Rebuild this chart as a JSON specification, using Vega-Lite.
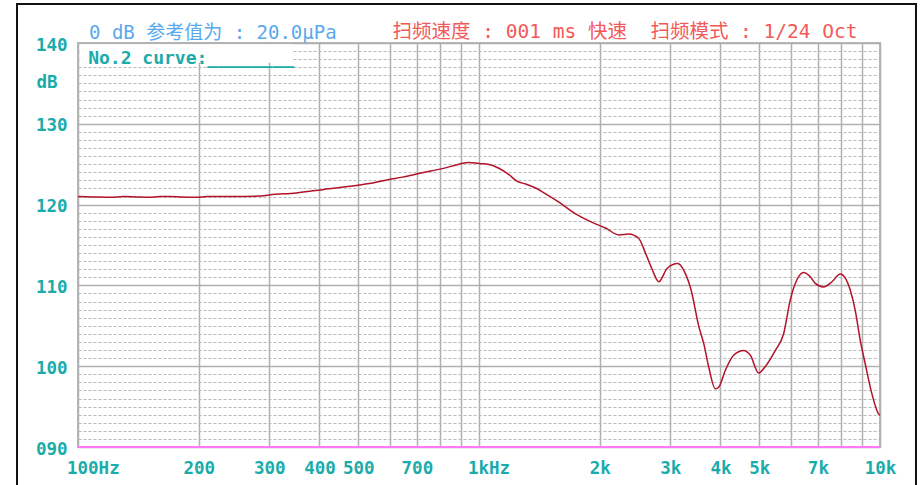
{
  "$schema": "https://vega.github.io/schema/vega-lite/v6.json",
  "width": 802,
  "height": 404,
  "autosize": {"type": "none"},
  "padding": {"left": 78, "top": 43, "right": 42, "bottom": 38},
  "background": "white",
  "title": {
    "text": "0 dB 参考值为 : 20.0μPa",
    "anchor": "start",
    "frame": "group",
    "dx": 11,
    "offset": -55,
    "baseline": "alphabetic",
    "font": "DejaVu Sans Mono, Noto Sans CJK SC",
    "fontSize": 19,
    "fontWeight": "normal",
    "color": "#5aa9ee"
  },
  "config": {"view": {"stroke": "#b8b8b8", "strokeWidth": 2}},
  "data": {
    "values": [
      {"f": 100, "db": 121.0},
      {"f": 110, "db": 120.95},
      {"f": 120, "db": 120.9},
      {"f": 130, "db": 121.0},
      {"f": 140, "db": 120.95},
      {"f": 150, "db": 120.9},
      {"f": 160, "db": 121.0},
      {"f": 170, "db": 121.0},
      {"f": 180, "db": 120.95},
      {"f": 197, "db": 120.9},
      {"f": 210, "db": 121.0},
      {"f": 240, "db": 121.0},
      {"f": 283, "db": 121.05},
      {"f": 300, "db": 121.2},
      {"f": 350, "db": 121.45},
      {"f": 407, "db": 121.85},
      {"f": 466, "db": 122.2},
      {"f": 532, "db": 122.6},
      {"f": 597, "db": 123.1},
      {"f": 644, "db": 123.4},
      {"f": 722, "db": 123.95},
      {"f": 810, "db": 124.45},
      {"f": 892, "db": 125.0},
      {"f": 944, "db": 125.22},
      {"f": 1000, "db": 125.08},
      {"f": 1059, "db": 124.97},
      {"f": 1121, "db": 124.5},
      {"f": 1188, "db": 123.7},
      {"f": 1246, "db": 122.87},
      {"f": 1307, "db": 122.55},
      {"f": 1384, "db": 122.05},
      {"f": 1480, "db": 121.2},
      {"f": 1582, "db": 120.3},
      {"f": 1741, "db": 118.85},
      {"f": 1915, "db": 117.8},
      {"f": 2069, "db": 117.1},
      {"f": 2233, "db": 116.25},
      {"f": 2363, "db": 116.35},
      {"f": 2503, "db": 115.8},
      {"f": 2601, "db": 114.0},
      {"f": 2702, "db": 112.0},
      {"f": 2808, "db": 110.45},
      {"f": 2945, "db": 112.1},
      {"f": 3131, "db": 112.7},
      {"f": 3253, "db": 111.7},
      {"f": 3381, "db": 109.4},
      {"f": 3534, "db": 104.9},
      {"f": 3635, "db": 102.8},
      {"f": 3740, "db": 99.9},
      {"f": 3886, "db": 97.2},
      {"f": 3961, "db": 97.4},
      {"f": 4115, "db": 99.5},
      {"f": 4315, "db": 101.35},
      {"f": 4571, "db": 101.95},
      {"f": 4751, "db": 101.35},
      {"f": 4982, "db": 99.15},
      {"f": 5127, "db": 99.7},
      {"f": 5483, "db": 101.95},
      {"f": 5752, "db": 104.05},
      {"f": 5974, "db": 108.2},
      {"f": 6206, "db": 110.7},
      {"f": 6449, "db": 111.6},
      {"f": 6700, "db": 111.07},
      {"f": 6896, "db": 110.25},
      {"f": 7234, "db": 109.8},
      {"f": 7589, "db": 110.45},
      {"f": 7960, "db": 111.4},
      {"f": 8193, "db": 110.9},
      {"f": 8432, "db": 109.4},
      {"f": 8674, "db": 106.9},
      {"f": 8929, "db": 103.2},
      {"f": 9186, "db": 100.3},
      {"f": 9544, "db": 96.6},
      {"f": 9915, "db": 94.1},
      {"f": 10000, "db": 93.9}
    ]
  },
  "layer": [
    {
      "mark": {"type": "line", "interpolate": "monotone", "color": "#b3122a", "strokeWidth": 1.5},
      "encoding": {
        "x": {
          "field": "f",
          "type": "quantitative",
          "scale": {"type": "log", "domain": [100, 10000], "nice": false},
          "axis": {
            "values": [100, 200, 300, 400, 500, 600, 700, 800, 900, 1000, 2000, 3000, 4000, 5000, 6000, 7000, 8000, 9000, 10000],
            "tickCount": 100,
            "labelExpr": "datum.value == 100 ? '100Hz' : datum.value == 1000 ? '1kHz' : indexof([600, 800, 900, 6000, 8000, 9000], datum.value) >= 0 ? '' : datum.value < 1000 ? datum.value + '' : (datum.value / 1000) + 'k'",
            "grid": true,
            "gridColor": "#b0b0b0",
            "gridWidth": 1.5,
            "ticks": false,
            "domain": false,
            "labelFont": "DejaVu Sans Mono",
            "labelFontWeight": "bold",
            "labelFontSize": 17.5,
            "labelColor": "#1aabab",
            "labelPadding": 12,
            "labelOverlap": false,
            "labelBound": false,
            "labelFlush": false,
            "labelAlign": {"condition": {"test": "datum.value == 100 || datum.value == 1000", "value": "left"}, "value": "center"},
            "labelOffset": {"condition": {"test": "datum.value == 100 || datum.value == 1000", "value": -11.5}, "value": 0},
            "title": "扫频速度 : 001 ms 快速\u00a0\u00a0扫频模式 : 1/24 Oct",
            "titleX": 314,
            "titleY": -410,
            "titleAlign": "left",
            "titleAngle": 0,
            "titleBaseline": "alphabetic",
            "titleFont": "DejaVu Sans Mono, Noto Sans CJK SC",
            "titleFontSize": 19.5,
            "titleFontWeight": "normal",
            "titleColor": "#f25a5a"
          }
        },
        "y": {
          "field": "db",
          "type": "quantitative",
          "scale": {"domain": [90, 140], "nice": false, "zero": false},
          "axis": {
            "values": [90, 91, 92, 93, 94, 95, 96, 97, 98, 99, 100, 101, 102, 103, 104, 105, 106, 107, 108, 109, 110, 111, 112, 113, 114, 115, 116, 117, 118, 119, 120, 121, 122, 123, 124, 125, 126, 127, 128, 129, 130, 131, 132, 133, 134, 135, 136, 137, 138, 139, 140],
            "tickCount": 100,
            "labelExpr": "datum.value % 10 == 0 ? (datum.value < 100 ? '0' + datum.value : datum.value + '') : ''",
            "grid": true,
            "gridColor": {"condition": {"test": "datum.value % 10 == 0", "value": "#b0b0b0"}, "value": "#b8b8b8"},
            "gridWidth": {"condition": {"test": "datum.value % 10 == 0", "value": 1.5}, "value": 1},
            "gridDash": {"condition": {"test": "datum.value % 10 == 0", "value": []}, "value": [3, 2]},
            "ticks": false,
            "domain": false,
            "labelFont": "DejaVu Sans Mono",
            "labelFontWeight": "bold",
            "labelFontSize": 17.5,
            "labelColor": "#1aabab",
            "labelPadding": 11,
            "labelOffset": 2,
            "labelBaseline": "middle",
            "labelOverlap": false,
            "labelBound": false,
            "labelFlush": false,
            "title": "dB",
            "titleAngle": 0,
            "titleX": -42,
            "titleY": 44,
            "titleAlign": "left",
            "titleBaseline": "alphabetic",
            "titleFont": "DejaVu Sans Mono",
            "titleFontWeight": "bold",
            "titleFontSize": 17.5,
            "titleColor": "#1aabab"
          }
        }
      }
    },
    {
      "data": {"values": [{}]},
      "mark": {"type": "rule", "color": "#ff78ff", "strokeWidth": 2},
      "encoding": {"y": {"datum": 90, "type": "quantitative"}}
    },
    {
      "data": {"values": [{}]},
      "mark": {"type": "rect", "fill": "white", "stroke": null},
      "encoding": {
        "x": {"datum": 101, "type": "quantitative"},
        "x2": {"datum": 343},
        "y": {"datum": 139.85, "type": "quantitative"},
        "y2": {"datum": 137.55}
      }
    },
    {
      "data": {"values": [{}]},
      "mark": {"type": "text", "align": "left", "baseline": "alphabetic", "font": "DejaVu Sans Mono", "fontWeight": "bold", "fontSize": 18, "color": "#1aabab"},
      "encoding": {
        "x": {"datum": 106, "type": "quantitative"},
        "y": {"datum": 137.45, "type": "quantitative"},
        "text": {"value": "No.2 curve:________"}
      }
    },
    {
      "data": {"values": [{}]},
      "mark": {"type": "rect", "fill": null, "fillOpacity": 0, "stroke": "#111111", "strokeWidth": 2, "clip": false},
      "encoding": {
        "x": {"datum": 70.45, "type": "quantitative"},
        "x2": {"datum": 12295},
        "y": {"datum": 144.83, "type": "quantitative"},
        "y2": {"datum": 84.5}
      }
    }
  ]
}
